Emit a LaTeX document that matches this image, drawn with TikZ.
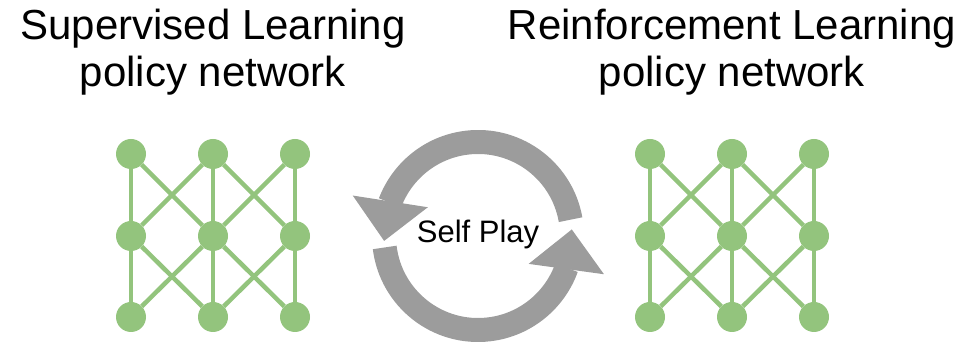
\documentclass[tikz,border=0pt]{standalone}
\usepackage{fontspec}
\setmainfont{Liberation Sans}
\usetikzlibrary{positioning, arrows.meta, bending}
\definecolor{netgreen}{HTML}{93C47D}
\definecolor{loopgray}{HTML}{9C9C9C}

\begin{document}
\begin{tikzpicture}[
  x=1pt, y=1pt,
  neuron/.style={circle, fill=netgreen, inner sep=0pt, minimum size=30pt},
  link/.style={draw=netgreen, line width=4.5pt},
  heading/.style={align=center, inner sep=0pt, font=\fontsize{42}{47}\selectfont},
  playlabel/.style={inner sep=0pt, font=\fontsize{31}{31}\selectfont},
  playarrow/.style={draw=loopgray, line width=24pt,
    -{Triangle[width=76pt, length=40pt, line width=0pt, flex]}}
]
\useasboundingbox (0,0) rectangle (964,342);

% the two policy networks, 3x3 neurons each
\foreach \net/\xo in {sl/131, rl/650} {
  \foreach \r/\y in {1/188, 2/106, 3/25}
    \foreach \c in {1,2,3}
      \node[neuron] (\net\r\c) at ({\xo+82*(\c-1)}, \y) {};
  \foreach \r/\n in {1/2, 2/3} {
    \foreach \c in {1,2,3}
      \draw[link] (\net\r\c) -- (\net\n\c);
    \foreach \c/\d in {1/2, 2/1, 2/3, 3/2}
      \draw[link] (\net\r\c) -- (\net\n\d);
  }
}

\node[heading, above=43pt of sl12] (sltitle) {Supervised Learning\\policy network};
\node[heading, above=43pt of rl12] (rltitle) {Reinforcement Learning\\policy network};

% self play loop in the middle
\coordinate (hub) at (478,106);
\node[playlabel, yshift=2pt] (selfplay) at (hub) {Self Play};
\draw[playarrow] (hub) ++(10:94) arc[start angle=10, end angle=183, radius=94];
\draw[playarrow] (hub) ++(187:94) arc[start angle=187, end angle=364, radius=94];
\end{tikzpicture}
\end{document}
